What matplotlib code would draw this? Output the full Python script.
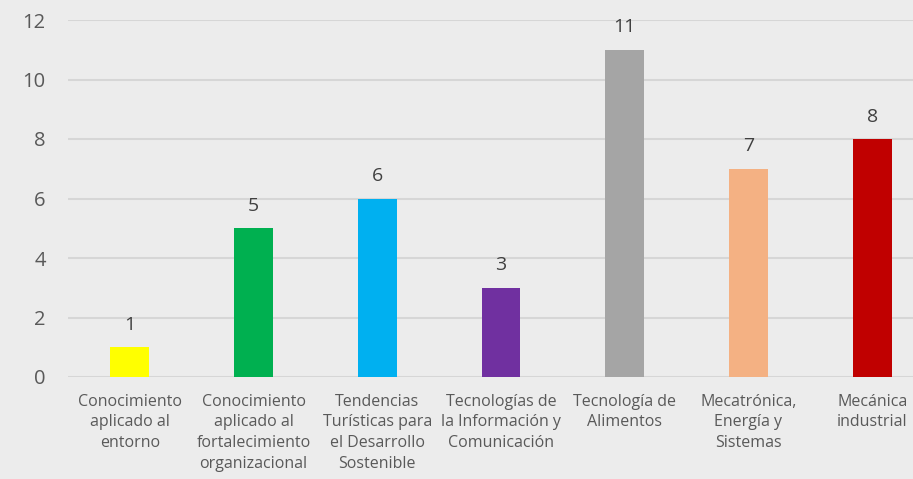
import matplotlib
matplotlib.use("Agg")
import matplotlib.pyplot as plt

categories = [
    "Conocimiento\naplicado al\nentorno",
    "Conocimiento\naplicado al\nfortalecimiento\norganizacional",
    "Tendencias\nTurísticas para\nel Desarrollo\nSostenible",
    "Tecnologías de\nla Información y\nComunicación",
    "Tecnología de\nAlimentos",
    "Mecatrónica,\nEnergía y\nSistemas",
    "Mecánica\nindustrial",
]
values = [1, 5, 6, 3, 11, 7, 8]
colors = ["#FFFF00", "#00B050", "#00B0F0", "#7030A0", "#A5A5A5", "#F4B183", "#C00000"]
yticks = [0, 2, 4, 6, 8, 10, 12]

plt.rcParams['font.family'] = ['Open Sans', 'DejaVu Sans']

fig = plt.figure(figsize=(9.13, 4.79), dpi=100)
fig.patch.set_facecolor("#ececec")
ax = fig.add_axes([68/913, 102/479, 866/913, 357/479])
ax.set_facecolor("none")

x = list(range(len(categories)))
ax.bar(x, values, width=0.315, color=colors, zorder=3)
for xi, v in zip(x, values):
    ax.text(xi, v + 0.45, str(v), ha="center", va="bottom", fontsize=14, color="#404040")

ax.set_xlim(-0.5, 6.5)
ax.set_ylim(0, 12)
ax.set_yticks(yticks)
ax.set_yticklabels([str(t) for t in yticks], fontsize=14.5, color="#595959")
ax.set_xticks(x)
ax.set_xticklabels(categories, fontsize=11.5, color="#595959", linespacing=1.4)
ax.grid(axis="y", color="#d6d6d6", linewidth=1.5, zorder=0)
ax.tick_params(axis="both", length=0)
ax.tick_params(axis="y", pad=16)
ax.tick_params(axis="x", pad=12)
for s in ax.spines.values():
    s.set_visible(False)

fig.savefig("out.png", dpi=100, facecolor=fig.get_facecolor())
